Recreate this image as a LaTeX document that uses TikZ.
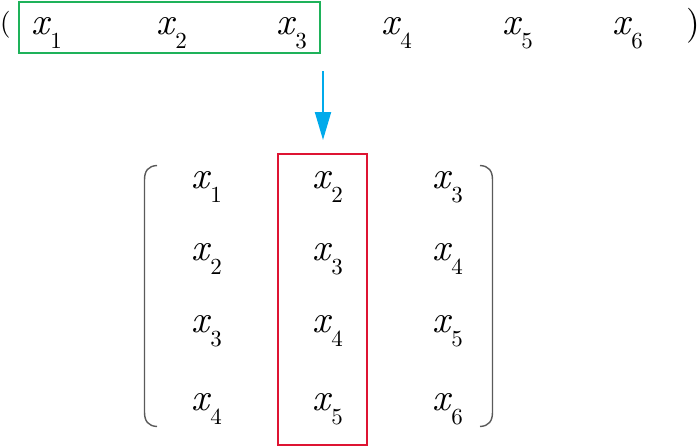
\documentclass[tikz,border=0pt]{standalone}
\usepackage{graphicx}
\usetikzlibrary{arrows.meta}
\definecolor{boxgreen}{RGB}{30,178,90}
\definecolor{boxred}{RGB}{222,20,50}
\definecolor{arrowblue}{RGB}{0,170,235}
\definecolor{brackgray}{RGB}{90,90,90}
\newcommand{\xsub}[1]{\scalebox{3.85}{\itshape x}\kern1.5pt\raisebox{-14.5pt}{\scalebox{2.3}{#1}}}
\begin{document}
\begin{tikzpicture}[x=1pt,y=-1pt,
  var/.style={anchor=base west,inner sep=0pt,outer sep=0pt},
  paren/.style={anchor=base,inner sep=0pt},
  brack/.style={draw=brackgray,line width=1.4pt}]
\useasboundingbox (0,0) rectangle (700,447);
% top row
\node[paren] (lp) at (5.5,31.5) {\scalebox{2.7}{(}};
\node[paren] (rp) at (693.5,34.5) {\scalebox{3.5}{)}};
\node[var] (t1) at (31,34) {\xsub{1}};
\node[var] (t2) at (156,34) {\xsub{2}};
\node[var] (t3) at (276,34) {\xsub{3}};
\node[var] (t4) at (381,34) {\xsub{4}};
\node[var] (t5) at (502,34) {\xsub{5}};
\node[var] (t6) at (612,34) {\xsub{6}};
\draw[draw=boxgreen,line width=2pt] (18.5,2) rectangle (320,52.5);
% arrow
\coordinate (atop) at (323,71);
\coordinate (abot) at (323,140);
\draw[draw=arrowblue,line width=2pt,-{Triangle[length=28pt,width=16pt]}] (atop) -- (abot);
% matrix
\node[var] (m11) at (191,188) {\xsub{1}};
\node[var] (m12) at (312,188) {\xsub{2}};
\node[var] (m13) at (432,188) {\xsub{3}};
\node[var] (m21) at (191,260) {\xsub{2}};
\node[var] (m22) at (312,260) {\xsub{3}};
\node[var] (m23) at (432,260) {\xsub{4}};
\node[var] (m31) at (191,332) {\xsub{3}};
\node[var] (m32) at (312,332) {\xsub{4}};
\node[var] (m33) at (432,332) {\xsub{5}};
\node[var] (m41) at (191,410) {\xsub{4}};
\node[var] (m42) at (312,410) {\xsub{5}};
\node[var] (m43) at (432,410) {\xsub{6}};
\draw[draw=boxred,line width=2pt] (278,154) rectangle (367,445);
% brackets
\draw[brack] (157,165.5) .. controls (148,166) and (144.5,171) .. (144.5,180) -- (144.5,412) .. controls (144.5,421) and (148,426) .. (157,426.5);
\draw[brack] (480,165.5) .. controls (489,166) and (492.5,171) .. (492.5,180) -- (492.5,412) .. controls (492.5,421) and (489,426) .. (480,426.5);
\end{tikzpicture}
\end{document}
